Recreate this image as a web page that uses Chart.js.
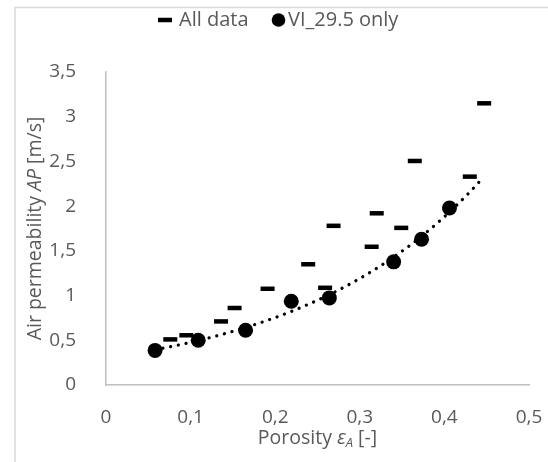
<!DOCTYPE html>
<html>
<head>
<meta charset="utf-8">
<script src="https://cdn.jsdelivr.net/npm/chart.js@4.4.1/dist/chart.umd.min.js"></script>
<style>
    html, body { margin: 0; padding: 0; background: #ffffff; }
    #wrap { position: relative; width: 548px; height: 462px; }
</style>
</head>
<body>
<div id="wrap"><canvas id="porosityChart" width="548" height="462"></canvas></div>
<script>
// Values
const allDataPorosity = [0.076, 0.095, 0.136, 0.152, 0.191, 0.239, 0.259, 0.269, 0.314, 0.320, 0.349, 0.365, 0.430, 0.447];
const allDataPermeability = [0.51, 0.556, 0.711, 0.861, 1.076, 1.35, 1.087, 1.78, 1.546, 1.92, 1.757, 2.505, 2.33, 3.15];

const viPorosity = [0.058, 0.109, 0.165, 0.219, 0.264, 0.340, 0.373, 0.406];
const viPermeability = [0.387, 0.50, 0.613, 0.937, 0.974, 1.377, 1.63, 1.98];

// Excel-style exponential trendline of the VI_29.5 series, forecast forward to this x
const trendEndX = 0.445;

const xTicks = [0, 0.1, 0.2, 0.3, 0.4, 0.5];
const yTicks = [0, 0.5, 1, 1.5, 2, 2.5, 3, 3.5];

const seriesLabels = ['All data', 'VI_29.5 only'];

const FONT = "'Open Sans', sans-serif";
const TEXT_COLOR = '#595959';
const AXIS_COLOR = '#bfbfbf';

// Helpers
const toPoints = (xs, ys) => xs.map((x, i) => ({ x: x, y: ys[i] }));
const fmt = (v) => String(Math.round(v * 10) / 10).replace('.', ',');

// Least squares fit of ln(y) = ln(a) + b x
const expFit = (xs, ys) => {
    const n = xs.length;
    const ly = ys.map(Math.log);
    const mx = xs.reduce((s, v) => s + v, 0) / n;
    const my = ly.reduce((s, v) => s + v, 0) / n;
    let sxy = 0, sxx = 0;
    xs.forEach((x, i) => {
        sxy += (x - mx) * (ly[i] - my);
        sxx += (x - mx) * (x - mx);
    });
    const b = sxy / sxx;
    return { a: Math.exp(my - b * mx), b: b };
};

const fit = expFit(viPorosity, viPermeability);
const trendStartX = Math.min(...viPorosity);
const trendPoints = [];
for (let i = 0; i <= 40; i++) {
    const x = trendStartX + (trendEndX - trendStartX) * i / 40;
    trendPoints.push({ x: x, y: fit.a * Math.exp(fit.b * x) });
}

// Frame, legend and axis titles (with italic parts and subscript)
const decorPlugin = {
    id: 'decor',
    beforeDraw: (chart) => {
        const ctx = chart.ctx;
        ctx.save();
        ctx.strokeStyle = '#d9d9d9';
        ctx.lineWidth = 1.5;
        ctx.beginPath();
        ctx.moveTo(15, 462);
        ctx.lineTo(15, 7.5);
        ctx.lineTo(548, 7.5);
        ctx.stroke();
        ctx.restore();
    },
    afterDraw: (chart) => {
        const ctx = chart.ctx;
        const area = chart.chartArea;
        const drawParts = (parts, cx, cy) => {
            let total = 0;
            parts.forEach(p => {
                ctx.font = p.font;
                p.w = ctx.measureText(p.text).width;
                total += p.w;
            });
            let x = cx - total / 2;
            parts.forEach(p => {
                ctx.font = p.font;
                ctx.fillText(p.text, x, cy + (p.dy || 0));
                x += p.w;
            });
        };
        ctx.save();
        ctx.fillStyle = TEXT_COLOR;
        ctx.textBaseline = 'middle';
        ctx.textAlign = 'left';

        // Legend
        const legendY = 20;
        ctx.strokeStyle = '#000000';
        ctx.lineWidth = 4.5;
        ctx.beginPath();
        ctx.moveTo(158, legendY);
        ctx.lineTo(172, legendY);
        ctx.stroke();
        ctx.fillStyle = '#000000';
        ctx.beginPath();
        ctx.arc(278.5, legendY, 6.8, 0, Math.PI * 2);
        ctx.fill();
        ctx.fillStyle = TEXT_COLOR;
        ctx.font = '20px ' + FONT;
        ctx.fillText(seriesLabels[0], 179, legendY);
        ctx.fillText(seriesLabels[1], 288, legendY);

        // Y title
        ctx.save();
        ctx.translate(35, (area.top + area.bottom) / 2);
        ctx.rotate(-Math.PI / 2);
        drawParts([
            { text: 'Air permeability ', font: '19.5px ' + FONT },
            { text: 'AP', font: 'italic 19.5px ' + FONT },
            { text: ' [m/s]', font: '19.5px ' + FONT }
        ], 0, 0);
        ctx.restore();

        // X title
        drawParts([
            { text: 'Porosity ', font: '19.5px ' + FONT },
            { text: '\u03b5', font: 'italic 19.5px ' + FONT },
            { text: 'A', font: 'italic 13px ' + FONT, dy: 5 },
            { text: ' [-]', font: '19.5px ' + FONT }
        ], (area.left + area.right) / 2, 438);
        ctx.restore();
    }
};

const chart = new Chart(document.getElementById('porosityChart'), {
    type: 'scatter',
    data: {
        datasets: [{
            label: seriesLabels[0],
            data: toPoints(allDataPorosity, allDataPermeability),
            pointStyle: 'line',
            pointRadius: 7,
            pointHoverRadius: 7,
            pointBorderWidth: 4.5,
            borderColor: '#000000',
            backgroundColor: '#000000',
            order: 2
        }, {
            label: seriesLabels[1],
            data: toPoints(viPorosity, viPermeability),
            pointStyle: 'circle',
            pointRadius: 7.5,
            pointHoverRadius: 7.5,
            pointBorderWidth: 0,
            borderColor: '#000000',
            backgroundColor: '#000000',
            order: 1
        }, {
            label: 'trend',
            type: 'line',
            data: trendPoints,
            showLine: true,
            pointRadius: 0,
            borderColor: '#000000',
            borderWidth: 3.2,
            borderDash: [0.1, 7.8],
            borderCapStyle: 'round',
            fill: false,
            tension: 0,
            order: 3
        }]
    },
    options: {
        responsive: false,
        animation: false,
        layout: { padding: { left: 0, right: 19, top: 0, bottom: 0 } },
        plugins: {
            tooltip: { enabled: false },
            legend: { display: false }
        },
        scales: {
            x: {
                type: 'linear',
                min: 0,
                max: 0.5,
                afterBuildTicks: (s) => { s.ticks = xTicks.map(v => ({ value: v })); },
                afterFit: (s) => {
                    s.height = 77;
                    s.paddingLeft = 0;
                    s.paddingRight = 0;
                },
                grid: { display: false },
                border: { display: true, color: AXIS_COLOR, width: 1.5 },
                ticks: {
                    padding: 13,
                    color: TEXT_COLOR,
                    font: { family: FONT, size: 19 },
                    callback: (v) => fmt(v)
                }
            },
            y: {
                type: 'linear',
                min: 0,
                max: 3.5,
                afterBuildTicks: (s) => { s.ticks = yTicks.map(v => ({ value: v })); },
                afterFit: (s) => {
                    s.width = 106;
                    s.paddingTop = 72;
                    s.paddingBottom = 0;
                },
                grid: { display: false },
                border: { display: true, color: AXIS_COLOR, width: 1.5 },
                ticks: {
                    padding: 22,
                    color: TEXT_COLOR,
                    font: { family: FONT, size: 19 },
                    callback: (v) => fmt(v)
                }
            }
        }
    },
    plugins: [decorPlugin]
});
</script>
</body>
</html>
